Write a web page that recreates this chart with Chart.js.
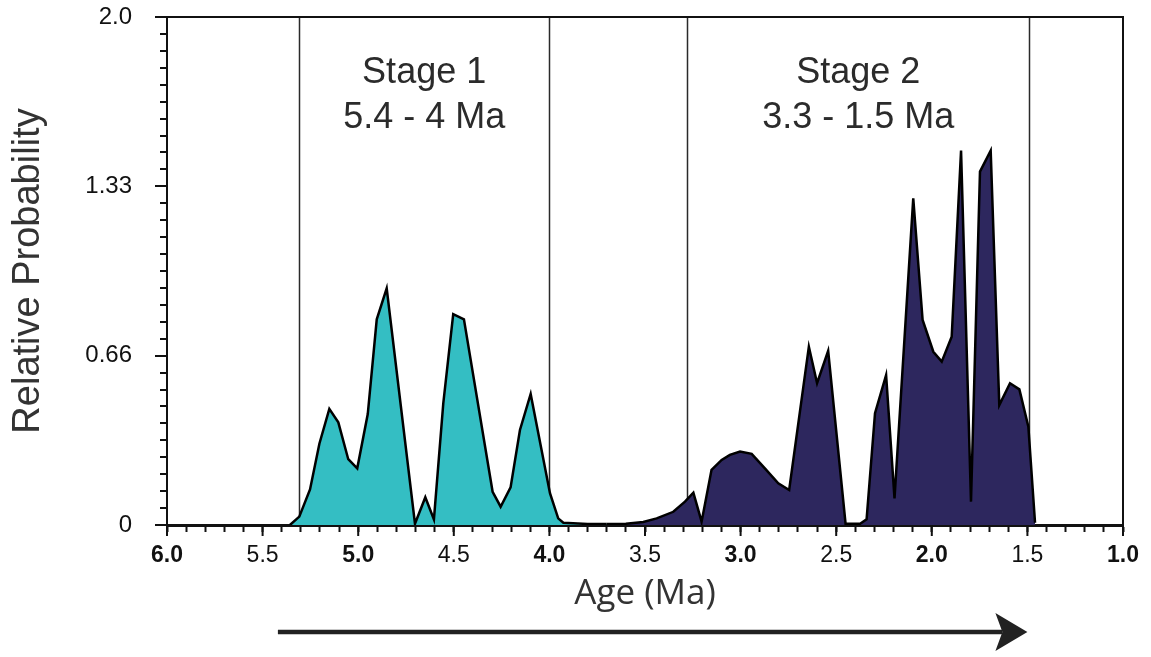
<!DOCTYPE html>
<html lang="en">
<head>
    <meta charset="UTF-8">
    <title>Relative Probability vs Age</title>
    <script src="https://cdn.jsdelivr.net/npm/chart.js"></script>
    <style>
        body { margin: 0; background: #fff; }
        #wrap { width: 1151px; height: 657px; }
    </style>
</head>
<body>
    <div id="wrap"><canvas id="myChart"></canvas></div>
    <script>
        // stage 1 curve (cyan)
        const stage1Age  = [5.357, 5.308, 5.252, 5.203, 5.151, 5.104, 5.052, 5.005, 4.95, 4.903, 4.851,
                            4.703, 4.649, 4.604, 4.555, 4.503, 4.447, 4.297, 4.255, 4.203, 4.154, 4.098,
                            3.997, 3.954, 3.927, 3.8, 3.7];
        const stage1Prob = [0, 0.033, 0.14, 0.32, 0.457, 0.404, 0.259, 0.223, 0.437, 0.81, 0.932,
                            0.005, 0.109, 0.022, 0.479, 0.83, 0.81, 0.131, 0.072, 0.148, 0.374, 0.516,
                            0.125, 0.026, 0.009, 0.004, 0.004];

        // stage 2 curve (dark blue)
        const stage2Age  = [3.7, 3.6, 3.509, 3.439, 3.352, 3.291, 3.247, 3.204, 3.152, 3.099, 3.056, 3.003,
                            2.942, 2.873, 2.803, 2.746, 2.643, 2.6, 2.542, 2.451, 2.375, 2.341, 2.297,
                            2.239, 2.195, 2.097, 2.048, 1.992, 1.948, 1.896, 1.847, 1.795, 1.748, 1.692,
                            1.647, 1.591, 1.542, 1.495, 1.46];
        const stage2Prob = [0.004, 0.005, 0.012, 0.026, 0.052, 0.092, 0.127, 0.013, 0.217, 0.256, 0.276, 0.289,
                            0.28, 0.223, 0.164, 0.138, 0.702, 0.558, 0.686, 0.005, 0.005, 0.022, 0.44,
                            0.59, 0.105, 1.286, 0.807, 0.682, 0.643, 0.741, 1.474, 0.092, 1.391, 1.474,
                            0.472, 0.558, 0.534, 0.387, 0.009];

        const yTickLabels = ['0', '0.66', '1.33', '2.0'];
        const stageBounds = [5.31, 4.0, 3.28, 1.49];
        const stageNames = ['Stage 1', 'Stage 2'];
        const stageRanges = ['5.4 - 4 Ma', '3.3 - 1.5 Ma'];

        const toPoints = (xs, ys) => xs.map((x, i) => ({x: x, y: ys[i]}));
        const isHalf = v => Math.abs(v * 2 - Math.round(v * 2)) < 1e-6;

        // lines, labels, frame, y ticks, longer major x ticks and the arrow
        const extras = {
            id: 'extras',
            beforeDatasetsDraw(chart) {
                const {ctx, chartArea, scales: {x}} = chart;
                ctx.save();
                ctx.strokeStyle = '#2a2a2a';
                ctx.lineWidth = 1.5;
                stageBounds.forEach(v => {
                    const px = Math.round(x.getPixelForValue(v)) + 0.5;
                    ctx.beginPath();
                    ctx.moveTo(px, chartArea.top);
                    ctx.lineTo(px, chartArea.bottom);
                    ctx.stroke();
                });
                ctx.restore();
            },
            afterDraw(chart) {
                const {ctx, chartArea, scales: {x, y}} = chart;
                ctx.save();
                // frame top/right
                ctx.strokeStyle = '#111';
                ctx.lineWidth = 2;
                ctx.beginPath();
                ctx.moveTo(chartArea.left, chartArea.top);
                ctx.lineTo(chartArea.right, chartArea.top);
                ctx.lineTo(chartArea.right, chartArea.bottom);
                ctx.stroke();
                // longer major x ticks
                x.ticks.forEach(t => {
                    if (!isHalf(t.value)) return;
                    const px = x.getPixelForValue(t.value);
                    ctx.beginPath();
                    ctx.moveTo(px, chartArea.bottom);
                    ctx.lineTo(px, chartArea.bottom + 11);
                    ctx.stroke();
                });
                // y ticks
                y.ticks.forEach((t, i) => {
                    const py = Math.round(y.getPixelForValue(t.value));
                    ctx.beginPath();
                    ctx.moveTo(chartArea.left, py);
                    ctx.lineTo(chartArea.left - (i % 10 === 0 ? 12 : 7), py);
                    ctx.stroke();
                });
                // stage labels
                ctx.fillStyle = '#2b2b2b';
                ctx.font = '36px "Liberation Sans", Arial, sans-serif';
                ctx.textAlign = 'center';
                ctx.textBaseline = 'alphabetic';
                for (let s = 0; s < 2; s++) {
                    const cx = (x.getPixelForValue(stageBounds[s * 2]) + x.getPixelForValue(stageBounds[s * 2 + 1])) / 2;
                    ctx.fillText(stageNames[s], cx, 83);
                    ctx.fillText(stageRanges[s], cx, 128);
                }
                // arrow under the axis
                const x0 = x.getPixelForValue(5.42), x1 = x.getPixelForValue(1.5);
                const ay = 632;
                ctx.strokeStyle = '#222';
                ctx.fillStyle = '#222';
                ctx.lineWidth = 4.5;
                ctx.beginPath();
                ctx.moveTo(x0, ay);
                ctx.lineTo(x1 - 25, ay);
                ctx.stroke();
                ctx.beginPath();
                ctx.moveTo(x1, ay);
                ctx.lineTo(x1 - 32, ay - 19);
                ctx.lineTo(x1 - 25, ay);
                ctx.lineTo(x1 - 32, ay + 19);
                ctx.closePath();
                ctx.fill();
                ctx.restore();
            }
        };

        const data = {
            datasets: [
                {
                    label: 'Stage 1',
                    data: toPoints(stage1Age, stage1Prob),
                    backgroundColor: '#34bec3',
                    borderColor: '#000',
                    borderWidth: 2.5,
                    fill: 'origin'
                },
                {
                    label: 'Stage 2',
                    data: toPoints(stage2Age, stage2Prob),
                    backgroundColor: '#2d275e',
                    borderColor: '#000',
                    borderWidth: 2.5,
                    fill: 'origin'
                }
            ]
        };

        const config = {
            type: 'line',
            data: data,
            options: {
                responsive: true,
                maintainAspectRatio: false,
                animation: false,
                layout: { padding: { left: 8, top: 17, right: 28, bottom: 42 } },
                elements: { point: { radius: 0 }, line: { tension: 0, borderJoinStyle: 'miter' } },
                plugins: { legend: { display: false }, tooltip: { enabled: false } },
                scales: {
                    x: {
                        type: 'linear',
                        min: 1,
                        max: 6,
                        reverse: true,
                        afterBuildTicks: scale => {
                            const t = [];
                            for (let i = 10; i <= 60; i++) t.push({value: i / 10});
                            scale.ticks = t;
                        },
                        afterFit: scale => { scale.height = 90; },
                        ticks: {
                            autoSkip: false,
                            maxRotation: 0,
                            padding: 10,
                            color: '#111',
                            font: ctx => ({
                                family: '"Liberation Sans", Arial, sans-serif',
                                size: 23,
                                weight: (ctx.tick && Math.abs(ctx.tick.value - Math.round(ctx.tick.value)) < 1e-6) ? 'bold' : 'normal'
                            }),
                            callback: v => isHalf(v) ? v.toFixed(1) : ''
                        },
                        grid: { drawOnChartArea: false, tickLength: 7, tickColor: '#111', tickWidth: 2 },
                        border: { display: true, color: '#111', width: 3 },
                        title: {
                            display: true,
                            text: 'Age (Ma)',
                            color: '#333',
                            font: { family: '"Open Sans", sans-serif', size: 35 },
                            padding: { top: 0, bottom: 0 }
                        }
                    },
                    y: {
                        min: 0,
                        max: 2,
                        afterBuildTicks: scale => {
                            const t = [];
                            for (let i = 0; i <= 30; i++) t.push({value: i * 2 / 30});
                            scale.ticks = t;
                        },
                        afterFit: scale => { scale.width = 159; },
                        ticks: {
                            autoSkip: false,
                            padding: 2,
                            color: '#111',
                            font: { family: '"Liberation Sans", Arial, sans-serif', size: 24 },
                            callback: (v, i) => i % 10 === 0 ? yTickLabels[i / 10] : ''
                        },
                        grid: { drawOnChartArea: false, tickLength: 33, tickColor: 'rgba(0,0,0,0)' },
                        border: { display: true, color: '#111', width: 2 },
                        title: {
                            display: true,
                            text: 'Relative Probability',
                            color: '#333',
                            font: { family: '"Liberation Sans", Arial, sans-serif', size: 38 },
                            padding: { top: -2, bottom: 0 }
                        }
                    }
                }
            },
            plugins: [extras]
        };

        const ctx = document.getElementById('myChart').getContext('2d');
        const myChart = new Chart(ctx, config);
    </script>
</body>
</html>
